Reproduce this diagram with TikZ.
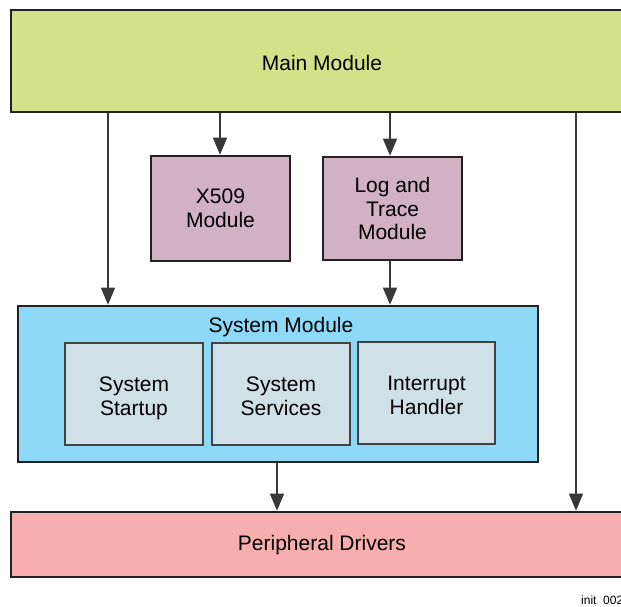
\documentclass[tikz,border=0pt]{standalone}
\usepackage{fontspec}
\setmainfont{Liberation Sans}
\usetikzlibrary{arrows.meta}
\definecolor{mainc}{HTML}{D3E28A}
\definecolor{pinkc}{HTML}{D1B1C2}
\definecolor{sysc}{HTML}{8ED8F8}
\definecolor{innerc}{HTML}{D0E0E8}
\definecolor{perc}{HTML}{F8AEAE}
\definecolor{linec}{HTML}{222222}
\newcommand{\upstrut}[1]{\rule{0pt}{#1pt}}
\newcommand{\dnstrut}{\rule[-4.5pt]{0pt}{0pt}}
\tikzset{
  outerbox/.style={draw=linec, line width=2.6pt, align=center, inner sep=0pt,
    font=\fontsize{21}{23.5}\selectfont},
  innerbox/.style={draw=linec!85, line width=1.3pt, fill=innerc, align=center, inner sep=0pt,
    minimum width=138pt, minimum height=102pt, font=\fontsize{21}{23.5}\selectfont},
  arr/.style={draw=linec!90, line width=1.3pt, -{Triangle[width=14pt,length=17pt]}}
}
\begin{document}
\begin{tikzpicture}[x=1pt,y=-1pt]
\useasboundingbox (0,0) rectangle (621,606);
\node[outerbox, fill=mainc, minimum width=622pt, minimum height=102pt] (main) at (322,61) {\upstrut{19}Main Module};
\node[outerbox, fill=pinkc, minimum width=139pt, minimum height=105pt] (x509) at (220.5,208.5) {X509\\Module};
\node[outerbox, fill=pinkc, minimum width=139pt, minimum height=103pt] (log) at (392.5,208.5) {Log and\\Trace\\Module};
\node[outerbox, fill=sysc, minimum width=520pt, minimum height=156pt] (sys) at (278,384) {};
\node[font=\fontsize{21}{23.5}\selectfont, anchor=base] (systitle) at (281,332) {System Module};
\node[innerbox] (start) at (134,394) {\upstrut{23}System\\Startup\dnstrut};
\node[innerbox] (serv) at (281,394) {\upstrut{23}System\\Services\dnstrut};
\node[innerbox, minimum width=137pt] (intr) at (426.5,393) {\upstrut{23}Interrupt\\Handler\dnstrut};
\node[outerbox, fill=perc, minimum width=622pt, minimum height=65pt] (per) at (322,544.5) {\upstrut{17}Peripheral Drivers};
\node[font=\fontsize{12}{14}\selectfont, anchor=base west, inner sep=0pt] (tag) at (581,604) {init\ \ 002};
\coordinate (cl) at (108,0);
\coordinate (cr) at (576,0);
\coordinate (cx) at (220,0);
\coordinate (cg) at (390,0);
\coordinate (cs) at (277,0);
\draw[arr] (main.south -| cl) -- (sys.north -| cl);
\draw[arr] (main.south -| cx) -- (x509.north -| cx);
\draw[arr] (main.south -| cg) -- (log.north -| cg);
\draw[arr] (log.south -| cg) -- (sys.north -| cg);
\draw[arr] (sys.south -| cs) -- (per.north -| cs);
\draw[arr] (main.south -| cr) -- (per.north -| cr);
\end{tikzpicture}
\end{document}
